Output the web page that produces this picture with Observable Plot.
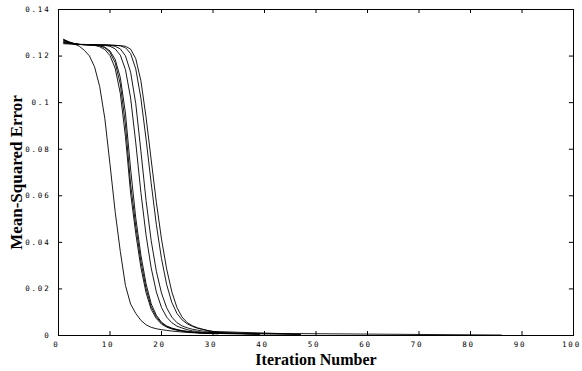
<!DOCTYPE html>
<html>
<head>
<meta charset="utf-8">
<script src="https://cdn.jsdelivr.net/npm/d3@7"></script>
<script src="https://cdn.jsdelivr.net/npm/@observablehq/plot@0.6"></script>
<style>
  html, body { margin: 0; padding: 0; background: #fff; }
</style>
</head>
<body>
<div id="chart"></div>
<script>
// Tick values
const xTicks = [0, 10, 20, 30, 40, 50, 60, 70, 80, 90, 100];
const yTicks = [0, 0.02, 0.04, 0.06, 0.08, 0.1, 0.12, 0.14];

// Mean-squared error per training run, at iterations 1, 2, 3, ...
const runA = [.1272,.1261,.1252,.1243,.1225,.1201,.1154,.1069,.0931,.0735,.0532,.0361,.0215,.0135,.0095,.0065,.0046,.0035,.0029,.0025,.0022,.0019,.0017,.0015,.0013,.0012,.0011,.0010];
const runB = [.1268,.1260,.1254,.1250,.1249,.1248,.1246,.1240,.1228,.1202,.1148,.1040,.0855,.0612,.0438,.0292,.0184,.0112,.0073,.0049,.0036,.0028,.0023,.0019,.0016,.0014,.0012,.0010];
const runC = [.1265,.1258,.1253,.1250,.1249,.1248,.1247,.1244,.1236,.1216,.1172,.1080,.0905,.0650,.0470,.0318,.0202,.0124,.0080,.0053,.0039,.0030,.0024,.0020,.0017,.0014,.0012,.0011];
const runD = [.1262,.1257,.1253,.1250,.1249,.1248,.1247,.1245,.1238,.1222,.1186,.1108,.0955,.0715,.0505,.0345,.0222,.0136,.0087,.0057,.0041,.0032,.0026,.0021,.0018,.0015,.0013,.0011];
const runE = [.1259,.1255,.1252,.1250,.1249,.1249,.1248,.1247,.1246,.1242,.1231,.1204,.1142,.1020,.0828,.0614,.0431,.0290,.0187,.0120,.0079,.0055,.0040,.0032,.0025,.0020,.0017,.0014];
const runF = [.1256,.1254,.1252,.1250,.1249,.1249,.1248,.1248,.1247,.1246,.1242,.1231,.1201,.1131,.0996,.0792,.0580,.0407,.0276,.0182,.0119,.0079,.0055,.0041,.0033,.0027,.0023,.0019];
const runG = [.1253,.1252,.1251,.1250,.1250,.1249,.1249,.1248,.1248,.1247,.1246,.1244,.1236,.1211,.1145,.1019,.0844,.0654,.0476,.0330,.0219,.0142,.0095,.0067,.0050,.0039,.0031,.0026];
const runH = [.1270,.1261,.1254,.1250,.1250,.1249,.1249,.1248,.1248,.1247,.1246,.1245,.1242,.1230,.1189,.1094,.0938,.0754,.0572,.0414,.0286,.0188,.0120,.0079,.0055,.0042,.0033,.0027,.0021,.0017,.0013];

// Last iteration of each run and its final error
const runs = [runA, runB, runC, runD, runE, runF, runG, runH];
const runEnd = [31, 39, 47, 86, 39, 47, 31, 39];
const runEndMSE = [.0007, .0005, .0004, .0002, .0006, .0005, .0012, .0006];

const rows = [];
runs.forEach((vals, r) => {
  vals.forEach((v, i) => rows.push({run: r, iter: i + 1, mse: v}));
  rows.push({run: r, iter: runEnd[r], mse: runEndMSE[r]});
});

const plot = Plot.plot({
  width: 582,
  height: 371,
  marginLeft: 58,
  marginRight: 9,
  marginTop: 9,
  marginBottom: 36,
  style: {fontFamily: "DejaVu Sans Mono", fontSize: "7.5px", color: "#000", background: "#fff"},
  x: {domain: [0, 100], ticks: xTicks, tickSize: 0, tickPadding: 6, tickFormat: d => String(d), label: null},
  y: {domain: [0, 0.14], ticks: yTicks, tickSize: 0, tickPadding: 8, tickFormat: d => String(d), label: null},
  marks: [
    Plot.frame({stroke: "#000", strokeWidth: 1}),
    Plot.ruleX(xTicks, {x: d => d, y1: 0, y2: 0.0017, stroke: "#000"}),
    Plot.ruleX(xTicks, {x: d => d, y1: 0.14, y2: 0.1383, stroke: "#000"}),
    Plot.ruleY(yTicks, {y: d => d, x1: 0, x2: 0.8, stroke: "#000"}),
    Plot.ruleY(yTicks, {y: d => d, x1: 100, x2: 99.2, stroke: "#000"}),
    Plot.line(rows, {x: "iter", y: "mse", z: "run", stroke: "#000", strokeWidth: 0.9}),
    Plot.text(["Iteration Number"], {frameAnchor: "bottom", textAnchor: "middle", lineAnchor: "middle", dy: 24, fontSize: 16, fontWeight: "bold", fontFamily: "Liberation Serif", fill: "#000"}),
    Plot.text(["Mean-Squared Error"], {frameAnchor: "left", textAnchor: "middle", lineAnchor: "middle", rotate: -90, dx: -42, fontSize: 17, fontWeight: "bold", fontFamily: "Liberation Serif", fill: "#000"})
  ]
});

d3.select(plot).selectAll('g[aria-label="x-axis"] text, g[aria-label="y-axis"] text, g[aria-label="x-axis tick label"] text, g[aria-label="y-axis tick label"] text')
  .style("letter-spacing", "1.8px");
d3.select(plot).selectAll('g[aria-label="x-axis tick label"] text, g[aria-label="x-axis"] text').attr("dx", -2);

document.getElementById("chart").appendChild(plot);
</script>
</body>
</html>
